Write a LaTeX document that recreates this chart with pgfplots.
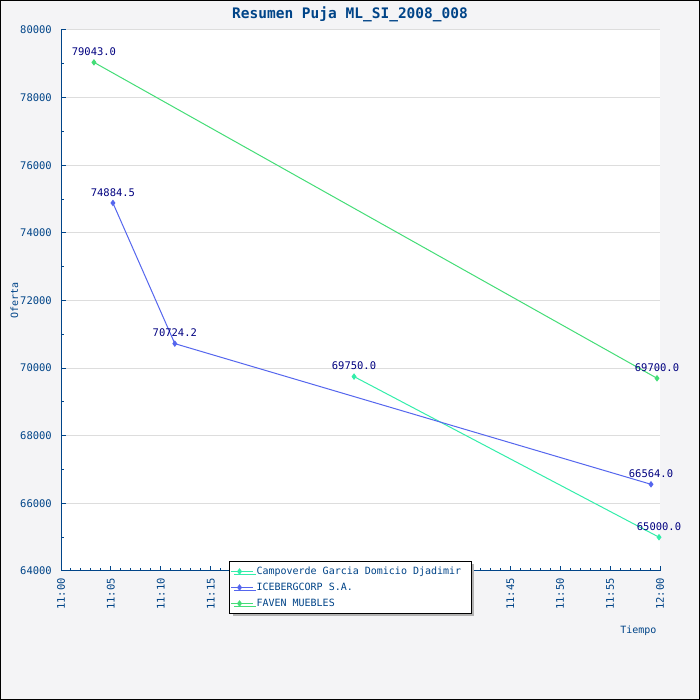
\documentclass[border=0pt]{standalone}
\usepackage{pgfplots}
\pgfplotsset{compat=1.18}
\usepackage{fontspec}
\setmainfont{DejaVu Sans Mono}
\usetikzlibrary{shadows}
\definecolor{bg}{RGB}{244,244,246}
\definecolor{campo}{RGB}{51,238,170}
\definecolor{ice}{RGB}{85,102,238}
\definecolor{faven}{RGB}{68,221,119}
\definecolor{axblue}{RGB}{0,68,136}
\definecolor{navy}{RGB}{0,0,128}
\definecolor{gridc}{RGB}{221,221,221}
\begin{document}
\begin{tikzpicture}
\useasboundingbox (0,0) rectangle (700pt,700pt);
\fill[bg] (0,0) rectangle (700pt,700pt);
\draw[black,line width=1pt] (0.5pt,0.5pt) rectangle (699.5pt,699.5pt);
\begin{axis}[
  at={(61pt,129pt)}, anchor=south west,
  scale only axis, width=599pt, height=541pt,
  xmin=0, xmax=60, ymin=64000, ymax=80000,
  scaled y ticks=false, scaled x ticks=false,
  axis background/.style={fill=white},
  axis x line*=bottom, axis y line*=left,
  axis line style={axblue, line width=1pt, -},
  every tick/.style={axblue, line width=1pt},
  tick align=inside,
  major tick length=5pt, minor tick length=3pt,
  xtick={0,5,...,60},
  xticklabels={11:00,11:05,11:10,11:15,11:20,11:25,11:30,11:35,11:40,11:45,11:50,11:55,12:00},
  minor x tick num=4,
  ytick={64000,66000,...,80000},
  yticklabels={64000,66000,68000,70000,72000,74000,76000,78000,80000},
  minor y tick num=1,
  ymajorgrids, major grid style={gridc, line width=1pt},
  xticklabel style={rotate=90, anchor=east, inner sep=0pt, inner xsep=7pt, font=\fontsize{10.5}{12}\selectfont, text=axblue},
  yticklabel style={anchor=east, inner sep=0pt, xshift=-9pt, font=\fontsize{10.5}{12}\selectfont, text=axblue},
  ylabel={Oferta},
  ylabel style={at={(axis description cs:-0.078,0.5)}, anchor=center, rotate=0, font=\fontsize{10}{12}\selectfont, text=axblue},
  xlabel={Tiempo},
  xlabel style={at={(axis description cs:1,0)}, anchor=east, yshift=-60pt, font=\fontsize{10}{12}\selectfont, text=axblue},
  title={\bfseries Resumen Puja ML\_SI\_2008\_008},
  title style={at={(axis description cs:0.4825,1.0314)}, anchor=center, yshift=-7pt, font=\fontsize{14.5}{16}\selectfont, text=axblue},
  clip=false,
  nodes near coords, point meta=explicit symbolic,
  every node near coord/.style={anchor=south, inner sep=0pt, yshift=6pt, font=\fontsize{10.5}{12}\selectfont, text=navy},
  legend style={at={(rel axis cs:0.2805,0.0185)}, anchor=north west,
    draw=black, line width=1pt, fill=white, text=axblue,
    drop shadow={shadow xshift=3pt, shadow yshift=-3pt, fill=gray!60, opacity=1},
    inner xsep=1pt, inner ysep=2pt,
    nodes={inner sep=3pt, text height=8pt, text depth=2pt, font=\fontsize{10}{12}\selectfont}},
  legend cell align=left,
  legend image code/.code={\draw[mark repeat=2,mark phase=2] plot coordinates {(0pt,0pt) (8.5pt,0pt) (17pt,0pt)}; \path (0pt,0pt) -- (22pt,0pt);},
]
\addplot[campo, line width=1pt, mark=diamond*, mark size=2.5pt] coordinates {(29.35,69750)[69750.0] (59.9,65000)[65000.0]};
\addlegendentry{Campoverde Garcia Domicio Djadimir\hspace*{6pt}}
\addplot[ice, line width=1pt, mark=diamond*, mark size=2.5pt] coordinates {(5.2,74884.5)[74884.5] (11.4,70724.2)[70724.2] (59.1,66564)[66564.0]};
\addlegendentry{ICEBERGCORP S.A.}
\addplot[faven, line width=1pt, mark=diamond*, mark size=2.5pt] coordinates {(3.3,79043)[79043.0] (59.7,69700)[69700.0]};
\addlegendentry{FAVEN MUEBLES}
\end{axis}
\end{tikzpicture}
\end{document}
